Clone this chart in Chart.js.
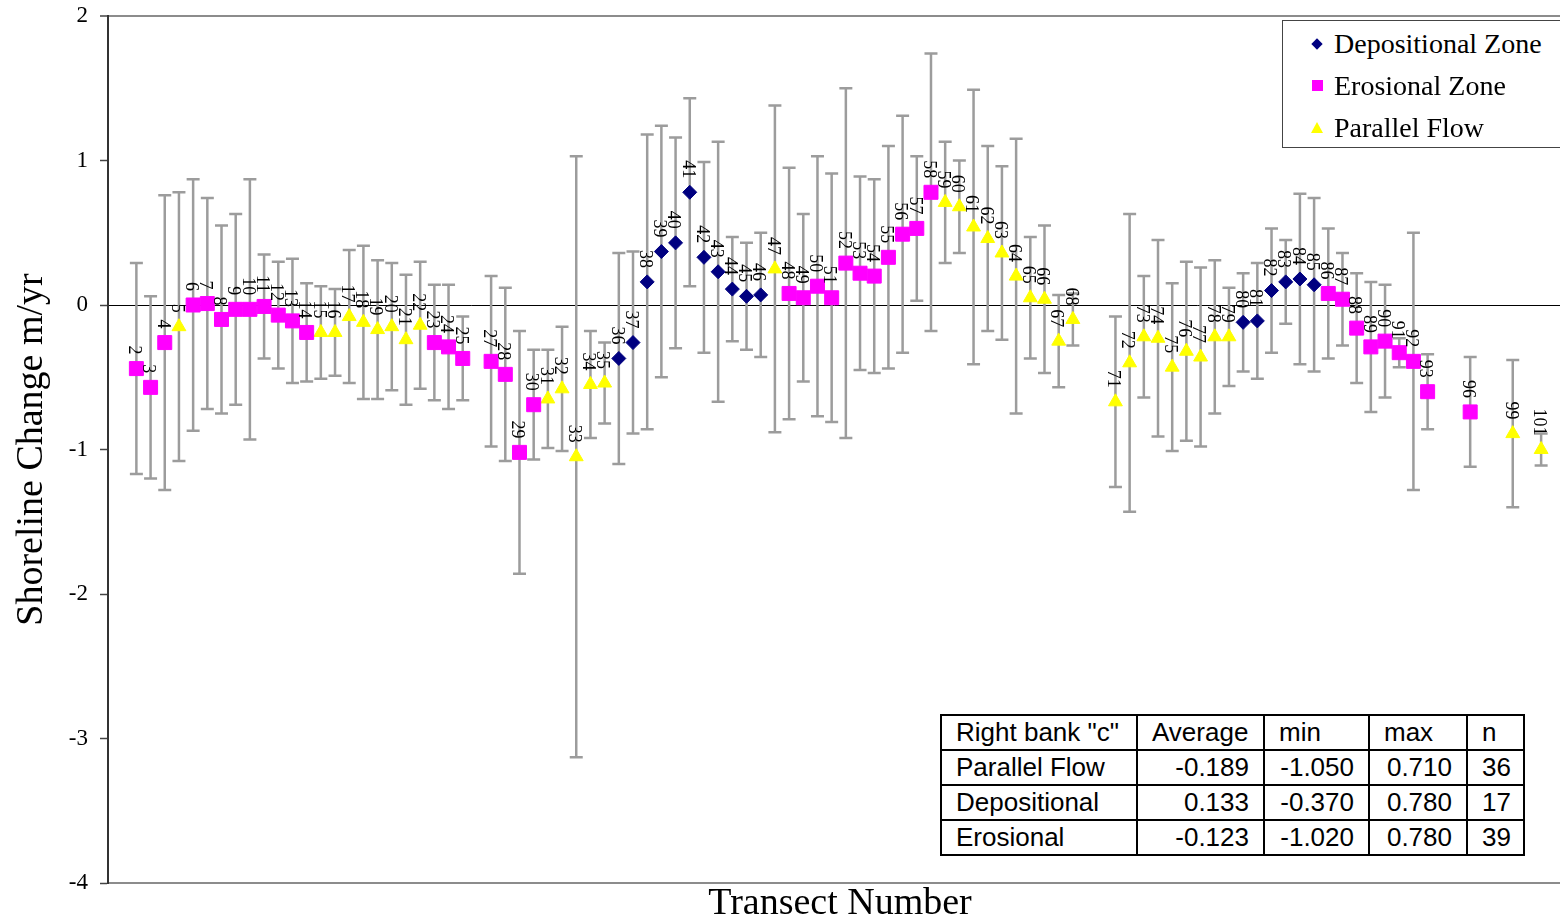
<!DOCTYPE html>
<html>
<head>
<meta charset="utf-8">
<script src="https://cdn.jsdelivr.net/npm/chart.js@4.4.1/dist/chart.umd.min.js"></script>
<style>
    body { margin: 0; background: #fff; }
    #wrap { position: relative; width: 1560px; height: 923px; overflow: hidden; }
    #legend {
        position: absolute; left: 1282px; top: 20px; width: 300px; height: 126px;
        border: 1px solid #444; background: #fff;
        font-family: "Liberation Serif", "Times New Roman", serif; font-size: 28px; color: #000;
    }
    .item { position: absolute; left: 0; height: 42px; line-height: 42px; }
    .item span.txt { position: absolute; left: 51px; white-space: nowrap; }
    .mk { position: absolute; }
    .diamond { left: 30px; top: 17px; width: 8px; height: 8px; background: #000080; transform: rotate(45deg); }
    .square { left: 29px; top: 15px; width: 11px; height: 11px; background: #ff00ff; }
    .triangle { left: 28px; top: 15px; width: 0; height: 0; border-left: 6px solid transparent; border-right: 6px solid transparent; border-bottom: 11px solid #ffff00; }
    #stats {
        position: absolute; left: 940px; top: 714px; border-collapse: collapse; table-layout: fixed;
        font-family: "Liberation Sans", Arial, sans-serif; font-size: 26px; color: #000; background: #fff;
    }
    #stats td { border: 2px solid #000; height: 33px; padding: 0 14px; line-height: 33px; white-space: nowrap; }
    #stats td.num { text-align: right; }
</style>
</head>
<body>
<div id="wrap">
    <canvas id="shorelineChart" width="1560" height="923"></canvas>
    <div id="legend"></div>
    <table id="stats"></table>
</div>
<script>
// depositional zone (navy diamonds)
const depTransects = [36, 37, 38, 39, 40, 41, 42, 43, 44, 45, 46, 80, 81, 82, 83, 84, 85];
const depValues = [-0.37, -0.26, 0.16, 0.37, 0.43, 0.78, 0.33, 0.23, 0.11, 0.06, 0.07, -0.12, -0.11, 0.10, 0.16, 0.18, 0.14];
const depErrors = [0.73, 0.63, 1.02, 0.87, 0.73, 0.65, 0.66, 0.90, 0.36, 0.37, 0.43, 0.34, 0.40, 0.43, 0.29, 0.59, 0.60];

// erosional zone (magenta squares)
const eroTransects = [2, 3, 4, 6, 7, 8, 9, 10, 11, 12, 13, 14, 23, 24, 25, 27, 28, 29, 30,
    48, 49, 50, 51, 52, 53, 54, 55, 56, 57, 58, 86, 87, 88, 89, 90, 91, 92, 93, 96];
const eroValues = [-0.44, -0.57, -0.26, 0.00, 0.01, -0.10, -0.03, -0.03, -0.01, -0.07, -0.11, -0.19, -0.26, -0.29, -0.37, -0.39, -0.48, -1.02, -0.69,
    0.08, 0.05, 0.13, 0.05, 0.29, 0.22, 0.20, 0.33, 0.49, 0.53, 0.78, 0.08, 0.04, -0.16, -0.29, -0.25, -0.33, -0.39, -0.60, -0.74];
const eroErrors = [0.73, 0.63, 1.02, 0.87, 0.73, 0.65, 0.66, 0.90, 0.36, 0.37, 0.43, 0.34, 0.40, 0.43, 0.29, 0.59, 0.60, 0.84, 0.38,
    0.87, 0.58, 0.90, 0.86, 1.21, 0.67, 0.67, 0.77, 0.82, 0.50, 0.96, 0.45, 0.32, 0.38, 0.45, 0.39, 0.10, 0.89, 0.26, 0.38];

// parallel flow (yellow triangles)
const parTransects = [5, 15, 16, 17, 18, 19, 20, 21, 22, 31, 32, 33, 34, 35, 47,
    59, 60, 61, 62, 63, 64, 65, 66, 67, 68, 71, 72, 73, 74, 75, 76, 77, 78, 79, 99, 101];
const parValues = [-0.15, -0.19, -0.19, -0.08, -0.12, -0.17, -0.15, -0.24, -0.14, -0.65, -0.58, -1.05, -0.55, -0.54, 0.25,
    0.71, 0.68, 0.54, 0.46, 0.36, 0.20, 0.05, 0.04, -0.25, -0.10, -0.67, -0.40, -0.22, -0.23, -0.43, -0.32, -0.36, -0.22, -0.22, -0.89, -1.00];
const parErrors = [0.93, 0.32, 0.30, 0.46, 0.53, 0.48, 0.44, 0.45, 0.44, 0.34, 0.43, 2.08, 0.37, 0.28, 1.13,
    0.42, 0.32, 0.95, 0.64, 0.60, 0.95, 0.42, 0.51, 0.32, 0.18, 0.59, 1.03, 0.42, 0.68, 0.58, 0.62, 0.62, 0.53, 0.34, 0.51, 0.11];

// summary table
const tableHeader = ['Right bank "c"', "Average", "min", "max", "n"];
const tableRows = ["Parallel Flow", "Depositional", "Erosional"];
const tableAverage = ["-0.189", "0.133", "-0.123"];
const tableMin = ["-1.050", "-0.370", "-1.020"];
const tableMax = ["0.710", "0.780", "0.780"];
const tableN = ["36", "17", "39"];

const seriesNames = ["Depositional Zone", "Erosional Zone", "Parallel Flow"];
const xTitle = "Transect Number";
const yTitle = "Shoreline Change m/yr";

const serif = '"Liberation Serif", "Times New Roman", serif';

function toPoints(transects, values, errors) {
    return transects.map((t, i) => ({ x: t, y: values[i], err: errors[i] }));
}

const errorBarPlugin = {
    id: "errorBars",
    beforeDatasetsDraw(chart) {
        const { ctx, scales: { x, y } } = chart;
        ctx.save();
        ctx.strokeStyle = "#9c9c9c";
        ctx.lineWidth = 2.5;
        chart.data.datasets.forEach((ds) => {
            ds.data.forEach((p) => {
                const px = x.getPixelForValue(p.x);
                const top = y.getPixelForValue(p.y + p.err);
                const bot = y.getPixelForValue(p.y - p.err);
                ctx.beginPath();
                ctx.moveTo(px, top);
                ctx.lineTo(px, bot);
                ctx.moveTo(px - 6.5, top);
                ctx.lineTo(px + 6.5, top);
                ctx.moveTo(px - 6.5, bot);
                ctx.lineTo(px + 6.5, bot);
                ctx.stroke();
            });
        });
        ctx.restore();
    },
};

const pointLabelPlugin = {
    id: "pointLabels",
    afterDatasetsDraw(chart) {
        const { ctx, scales: { x, y } } = chart;
        ctx.save();
        ctx.fillStyle = "#000";
        ctx.font = "18px " + serif;
        ctx.textAlign = "right";
        ctx.textBaseline = "middle";
        chart.data.datasets.forEach((ds) => {
            ds.data.forEach((p) => {
                const px = x.getPixelForValue(p.x);
                const py = y.getPixelForValue(p.y);
                ctx.save();
                ctx.translate(px - 2.5, py - 14);
                ctx.rotate(Math.PI / 2);
                ctx.fillText(String(p.x), 0, 0);
                ctx.restore();
            });
        });
        ctx.restore();
    },
};

// axis titles drawn by hand so they sit where the original put them
const axisTitlePlugin = {
    id: "axisTitles",
    afterDraw(chart) {
        const { ctx, chartArea } = chart;
        ctx.save();
        ctx.fillStyle = "#000";
        ctx.font = "38px " + serif;
        ctx.textAlign = "center";
        ctx.textBaseline = "alphabetic";
        ctx.fillText(xTitle, 840, 914);
        ctx.translate(42, (chartArea.top + chartArea.bottom) / 2);
        ctx.rotate(-Math.PI / 2);
        ctx.fillText(yTitle, 0, 0);
        ctx.restore();
    },
};

new Chart(document.getElementById("shorelineChart"), {
    type: "scatter",
    data: {
        datasets: [
            {
                label: seriesNames[0],
                data: toPoints(depTransects, depValues, depErrors),
                pointStyle: "rectRot",
                pointRadius: 7,
                backgroundColor: "#000080",
                borderColor: "#000080",
                borderWidth: 1,
            },
            {
                label: seriesNames[1],
                data: toPoints(eroTransects, eroValues, eroErrors),
                pointStyle: "rect",
                pointRadius: 9.9,
                backgroundColor: "#ff00ff",
                borderColor: "#ff00ff",
                borderWidth: 1,
            },
            {
                label: seriesNames[2],
                data: toPoints(parTransects, parValues, parErrors),
                pointStyle: "triangle",
                pointRadius: 8,
                backgroundColor: "#ffff00",
                borderColor: "#ffff00",
                borderWidth: 1,
            },
        ],
    },
    options: {
        responsive: false,
        animation: false,
        events: [],
        layout: { autoPadding: false, padding: { top: 16, right: 0, left: 0, bottom: 0 } },
        plugins: {
            legend: { display: false },
            tooltip: { enabled: false },
        },
        scales: {
            x: {
                type: "linear",
                min: 0,
                max: 102.33,
                ticks: { display: false },
                grid: { display: false, drawTicks: false },
                border: { display: true, color: "#8c8c8c", width: 2 },
                afterFit(scale) {
                    scale.height = 40;
                },
            },
            y: {
                min: -4,
                max: 2,
                ticks: {
                    stepSize: 1,
                    color: "#000",
                    padding: 12,
                    font: { family: serif, size: 23 },
                },
                grid: {
                    color: (c) => (c.tick.value === 0 ? "#000" : c.tick.value === 2 ? "#8c8c8c" : "rgba(0,0,0,0)"),
                    lineWidth: (c) => (c.tick.value === 2 ? 2 : 1),
                    tickColor: "#444",
                    tickLength: 8,
                    tickWidth: 1.5,
                },
                border: { display: true, color: "#333", width: 2 },
                afterFit(scale) {
                    scale.width = 108;
                    scale.paddingTop = 0;
                    scale.paddingBottom = 0;
                },
            },
        },
    },
    plugins: [errorBarPlugin, pointLabelPlugin, axisTitlePlugin],
});

// legend box
const legendBox = document.getElementById("legend");
const markerClasses = ["diamond", "square", "triangle"];
seriesNames.forEach((name, i) => {
    const row = document.createElement("div");
    row.className = "item";
    row.style.top = (2 + i * 42) + "px";
    row.innerHTML = `<div class="mk ${markerClasses[i]}"></div><span class="txt">${name}</span>`;
    legendBox.appendChild(row);
});

// summary table
const stats = document.getElementById("stats");
const colWidths = [196, 127, 105, 98, 57];
const colgroup = document.createElement("colgroup");
colWidths.forEach((w) => {
    const col = document.createElement("col");
    col.style.width = w + "px";
    colgroup.appendChild(col);
});
stats.appendChild(colgroup);
stats.style.width = colWidths.reduce((a, b) => a + b, 0) + "px";

const head = document.createElement("tr");
tableHeader.forEach((h) => {
    const td = document.createElement("td");
    td.textContent = h;
    head.appendChild(td);
});
stats.appendChild(head);

tableRows.forEach((name, i) => {
    const tr = document.createElement("tr");
    [name, tableAverage[i], tableMin[i], tableMax[i], tableN[i]].forEach((v, j) => {
        const td = document.createElement("td");
        td.textContent = v;
        if (j > 0) td.className = "num";
        tr.appendChild(td);
    });
    stats.appendChild(tr);
});
</script>
</body>
</html>
